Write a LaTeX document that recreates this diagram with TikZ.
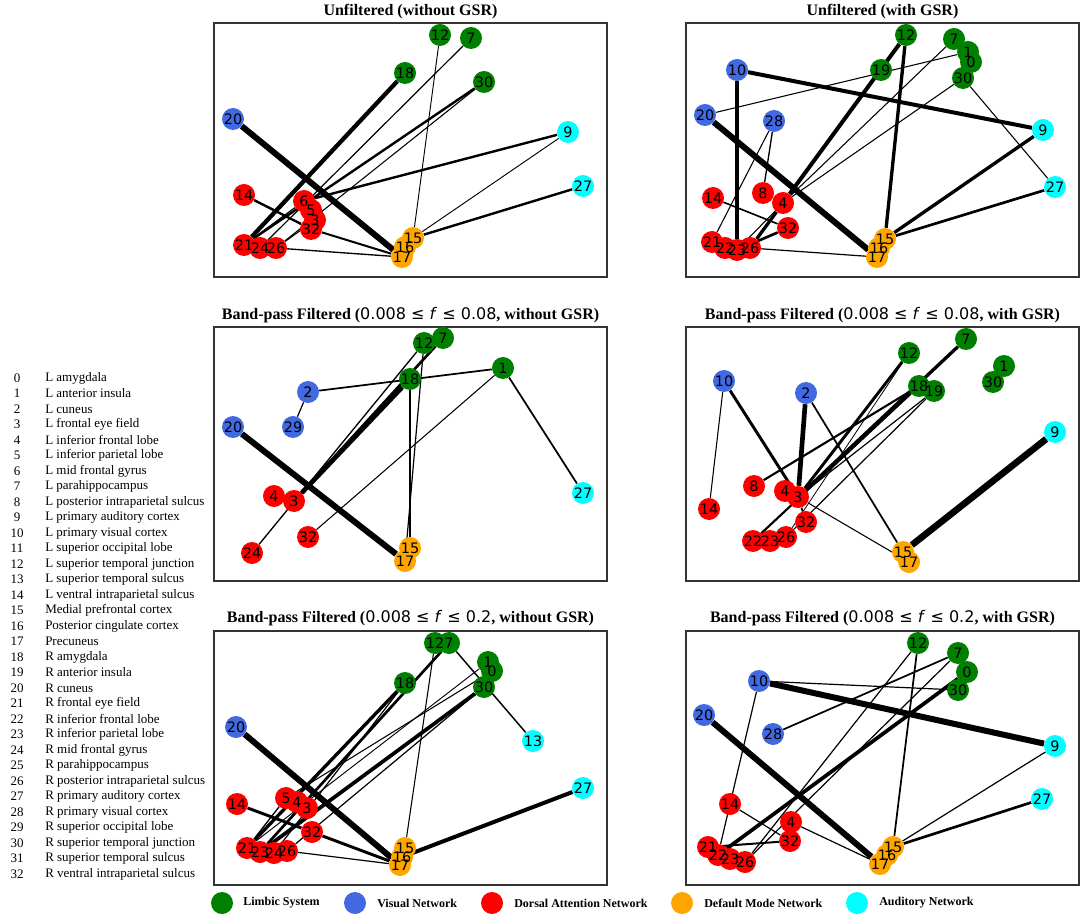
\documentclass[tikz,border=0pt]{standalone}
\usepackage{fontspec}
\setmainfont{Liberation Serif}
\newfontfamily\dejavu{DejaVu Sans}
\definecolor{lim}{HTML}{008000}
\definecolor{vis}{HTML}{4169E1}
\definecolor{dan}{HTML}{FF0000}
\definecolor{dmn}{HTML}{FFA500}
\definecolor{aud}{HTML}{00FFFF}
\pgfdeclarelayer{bg}
\pgfsetlayers{bg,main}
\tikzset{
  roi/.style={circle,minimum size=16.5pt,inner sep=0pt},
  roilabel/.style={font=\dejavu\fontsize{10.8}{10.8}\selectfont,inner sep=0pt},
  panelbox/.style={draw=black!80,line width=0.8pt},
  ptitle/.style={font=\bfseries\fontsize{12}{14}\selectfont,inner sep=0pt},
  listtext/.style={font=\fontsize{9.75}{11}\selectfont,inner sep=0pt},
  legtext/.style={font=\bfseries\fontsize{9}{11}\selectfont,inner sep=0pt,anchor=west},
}
\newcommand{\bandrange}[1]{{\dejavu\mdseries 0.008 ≤ \textit{f} ≤ #1}}
\begin{document}
\begin{tikzpicture}[x=0.75pt,y=-0.75pt]
  \useasboundingbox (0,0) rectangle (1084,919);

  % panel frames and titles
  \foreach \px/\py in {214/23, 686/23, 214/327, 686/327, 214/631, 686/631} {
    \draw[panelbox] (\px,\py) rectangle ++(393,254);
  }
  \node[ptitle] (t1) at (410.5,12) {Unfiltered (without GSR)};
  \node[ptitle] (t2) at (882.5,12) {Unfiltered (with GSR)};
  \node[ptitle] (t3) at (410.5,315) {Band-pass Filtered (\bandrange{0.08}, without GSR)};
  \node[ptitle] (t4) at (882.5,315) {Band-pass Filtered (\bandrange{0.08}, with GSR)};
  \node[ptitle] (t5) at (410.5,618) {Band-pass Filtered (\bandrange{0.2}, without GSR)};
  \node[ptitle] (t6) at (882.5,618) {Band-pass Filtered (\bandrange{0.2}, with GSR)};

  % unfiltered, without GSR
  \def \NodesA {
    3/315/220/dan, 5/311/210/dan, 6/304/201/dan, 7/471/38/lim, 9/568/132/aud,
    12/440/35/lim, 14/244/195/dan, 15/413/238/dmn, 16/405/247/dmn, 17/402/257/dmn,
    18/405/73/lim, 20/233/119/vis, 21/244/245/dan, 24/260/248/dan, 26/276/248/dan,
    27/583/186/aud, 30/484/82/lim, 32/311/229/dan}
  \def \EdgesA {
    20/17/4.5, 18/21/3.2, 12/15/0.7, 7/24/0.9, 30/21/1.8, 30/26/0.8, 9/6/1.8,
    9/15/0.7, 27/15/1.8, 14/32/1.8, 32/17/1.5, 26/17/1, 6/21/0.9, 3/26/0.8}
  \foreach \id / \x / \y / \c in \NodesA {
    \node[roi,fill=\c] (a\id) at (\x,\y) {};
  }
  \foreach \id / \x / \y / \c in \NodesA {
    \node[roilabel] (la\id) at (a\id) {\id};
  }
  \begin{pgfonlayer}{bg}
    \foreach \u / \v / \w in \EdgesA {
      \draw[line width=\w pt] (a\u) -- (a\v);
    }
  \end{pgfonlayer}

  % unfiltered, with GSR
  \def \NodesB {
    1/968/52/lim, 0/971/62/lim, 4/783/203/dan, 7/954/39/lim, 8/763/193/dan,
    9/1043/130/aud, 10/737/70/vis, 12/906/35/lim, 14/713/198/dan, 15/885/239/dmn,
    16/879/248/dmn, 17/877/257/dmn, 19/881/70/lim, 20/705/115/vis, 21/712/242/dan,
    22/725/248/dan, 23/737/250/dan, 26/750/248/dan, 27/1055/187/aud, 28/774/121/vis,
    30/963/78/lim, 32/788/228/dan}
  \def \EdgesB {
    10/9/3, 10/23/2.5, 20/17/4.5, 20/1/0.8, 12/15/2.5, 12/4/3, 7/4/0.8, 30/4/0.8,
    30/27/0.8, 9/15/2.5, 27/15/2, 28/8/1, 28/21/0.8, 14/32/1.2, 4/26/2.5, 4/23/0.8,
    23/32/2, 26/17/0.9}
  \foreach \id / \x / \y / \c in \NodesB {
    \node[roi,fill=\c] (b\id) at (\x,\y) {};
  }
  \foreach \id / \x / \y / \c in \NodesB {
    \node[roilabel] (lb\id) at (b\id) {\id};
  }
  \begin{pgfonlayer}{bg}
    \foreach \u / \v / \w in \EdgesB {
      \draw[line width=\w pt] (b\u) -- (b\v);
    }
  \end{pgfonlayer}

  % band-pass 0.08, without GSR
  \def \NodesC {
    1/503/368/lim, 2/308/392/vis, 4/274/496/dan, 3/294/501/dan, 12/424/343/lim,
    7/443/338/lim, 15/410/548/dmn, 17/405/561/dmn, 18/410/379/lim, 20/233/427/vis,
    24/252/553/dan, 27/583/493/aud, 29/293/427/vis, 32/308/537/dan}
  \def \EdgesC {
    20/17/4.5, 3/18/3.5, 3/7/2, 24/12/1, 18/15/2.2, 12/17/0.9, 2/1/1.3, 2/29/0.9,
    1/27/1.3, 1/32/0.8}
  \foreach \id / \x / \y / \c in \NodesC {
    \node[roi,fill=\c] (c\id) at (\x,\y) {};
  }
  \foreach \id / \x / \y / \c in \NodesC {
    \node[roilabel] (lc\id) at (c\id) {\id};
  }
  \begin{pgfonlayer}{bg}
    \foreach \u / \v / \w in \EdgesC {
      \draw[line width=\w pt] (c\u) -- (c\v);
    }
  \end{pgfonlayer}

  % band-pass 0.08, with GSR
  \def \NodesD {
    1/1004/366/lim, 2/806/393/vis, 4/785/491/dan, 3/798/497/dan, 7/966/339/lim,
    8/754/486/dan, 9/1055/432/aud, 10/724/381/vis, 12/909/353/lim, 14/709/509/dan,
    15/903/552/dmn, 17/909/562/dmn, 18/919/386/lim, 19/934/391/lim, 22/753/541/dan,
    23/770/541/dan, 26/786/537/dan, 30/993/382/lim, 32/806/522/dan}
  \def \EdgesD {
    9/15/5, 2/3/3.5, 10/3/2.2, 10/14/0.8, 2/15/1.3, 12/3/2.2, 7/3/2.5, 18/8/1.6,
    18/22/1.6, 19/3/0.9, 19/26/0.9, 12/26/0.6, 3/32/1.3, 3/17/0.8}
  \foreach \id / \x / \y / \c in \NodesD {
    \node[roi,fill=\c] (d\id) at (\x,\y) {};
  }
  \foreach \id / \x / \y / \c in \NodesD {
    \node[roilabel] (ld\id) at (d\id) {\id};
  }
  \begin{pgfonlayer}{bg}
    \foreach \u / \v / \w in \EdgesD {
      \draw[line width=\w pt] (d\u) -- (d\v);
    }
  \end{pgfonlayer}

  % band-pass 0.2, without GSR
  \def \NodesE {
    1/488/662/lim, 0/492/671/lim, 3/307/808/dan, 4/297/802/dan, 5/286/798/dan,
    12/435/643/lim, 7/449/643/lim, 13/533/741/aud, 14/237/804/dan, 15/405/848/dmn,
    16/402/857/dmn, 17/400/865/dmn, 18/405/683/lim, 20/236/727/vis, 21/247/848/dan,
    23/260/852/dan, 24/274/853/dan, 26/287/851/dan, 27/583/788/aud, 30/484/687/lim,
    32/312/832/dan}
  \def \EdgesE {
    20/17/4.5, 27/16/3, 14/32/2.2, 32/17/2.2, 26/17/0.9, 12/15/0.8, 7/13/1.1,
    18/21/2.5, 7/23/2, 18/24/0.9, 30/23/2.8, 30/26/0.9, 0/5/0.8, 1/21/0.7, 5/21/1}
  \foreach \id / \x / \y / \c in \NodesE {
    \node[roi,fill=\c] (e\id) at (\x,\y) {};
  }
  \foreach \id / \x / \y / \c in \NodesE {
    \node[roilabel] (le\id) at (e\id) {\id};
  }
  \begin{pgfonlayer}{bg}
    \foreach \u / \v / \w in \EdgesE {
      \draw[line width=\w pt] (e\u) -- (e\v);
    }
  \end{pgfonlayer}

  % band-pass 0.2, with GSR
  \def \NodesF {
    0/967/672/lim, 4/791/822/dan, 7/958/653/lim, 9/1055/746/aud, 10/759/681/vis,
    12/918/643/lim, 14/730/804/dan, 15/893/847/dmn, 16/887/855/dmn, 17/880/864/dmn,
    20/704/715/vis, 21/708/847/dan, 22/718/855/dan, 23/730/859/dan, 26/745/862/dan,
    27/1042/799/aud, 28/773/734/vis, 30/958/690/lim, 32/790/841/dan}
  \def \EdgesF {
    10/9/4.5, 20/17/4.5, 10/30/0.9, 10/22/0.9, 7/28/1.3, 0/22/2.8, 12/26/0.9,
    7/26/0.9, 12/15/1.3, 9/15/0.9, 27/15/2, 14/32/0.9, 21/32/1.5, 4/17/0.9}
  \foreach \id / \x / \y / \c in \NodesF {
    \node[roi,fill=\c] (f\id) at (\x,\y) {};
  }
  \foreach \id / \x / \y / \c in \NodesF {
    \node[roilabel] (lf\id) at (f\id) {\id};
  }
  \begin{pgfonlayer}{bg}
    \foreach \u / \v / \w in \EdgesF {
      \draw[line width=\w pt] (f\u) -- (f\v);
    }
  \end{pgfonlayer}

  % region list
  \foreach \i / \name in {
    0/L amygdala, 1/L anterior insula, 2/L cuneus, 3/L frontal eye field,
    4/L inferior frontal lobe, 5/L inferior parietal lobe, 6/L mid frontal gyrus,
    7/L parahippocampus, 8/L posterior intraparietal sulcus, 9/L primary auditory cortex,
    10/L primary visual cortex, 11/L superior occipital lobe,
    12/L superior temporal junction, 13/L superior temporal sulcus,
    14/L ventral intraparietal sulcus, 15/Medial prefrontal cortex,
    16/Posterior cingulate cortex, 17/Precuneus, 18/R amygdala, 19/R anterior insula,
    20/R cuneus, 21/R frontal eye field, 22/R inferior frontal lobe,
    23/R inferior parietal lobe, 24/R mid frontal gyrus, 25/R parahippocampus,
    26/R posterior intraparietal sulcus, 27/R primary auditory cortex,
    28/R primary visual cortex, 29/R superior occipital lobe,
    30/R superior temporal junction, 31/R superior temporal sulcus,
    32/R ventral intraparietal sulcus} {
    \node[listtext] (num\i) at (17,378+15.5*\i) {\i};
    \node[listtext,anchor=west] (name\i) at (45,378+15.5*\i) {\name};
  }

  % legend
  \foreach \k / \x / \tx / \c / \txt in {
    1/222/243/lim/Limbic System, 2/355/377/vis/Visual Network,
    3/492/514/dan/Dorsal Attention Network, 4/682/704/dmn/Default Mode Network,
    5/857/879/aud/Auditory Network} {
    \node[roi,fill=\c] (key\k) at (\x,903) {};
    \node[legtext] (keytext\k) at (\tx,903) {\txt};
  }
\end{tikzpicture}
\end{document}
